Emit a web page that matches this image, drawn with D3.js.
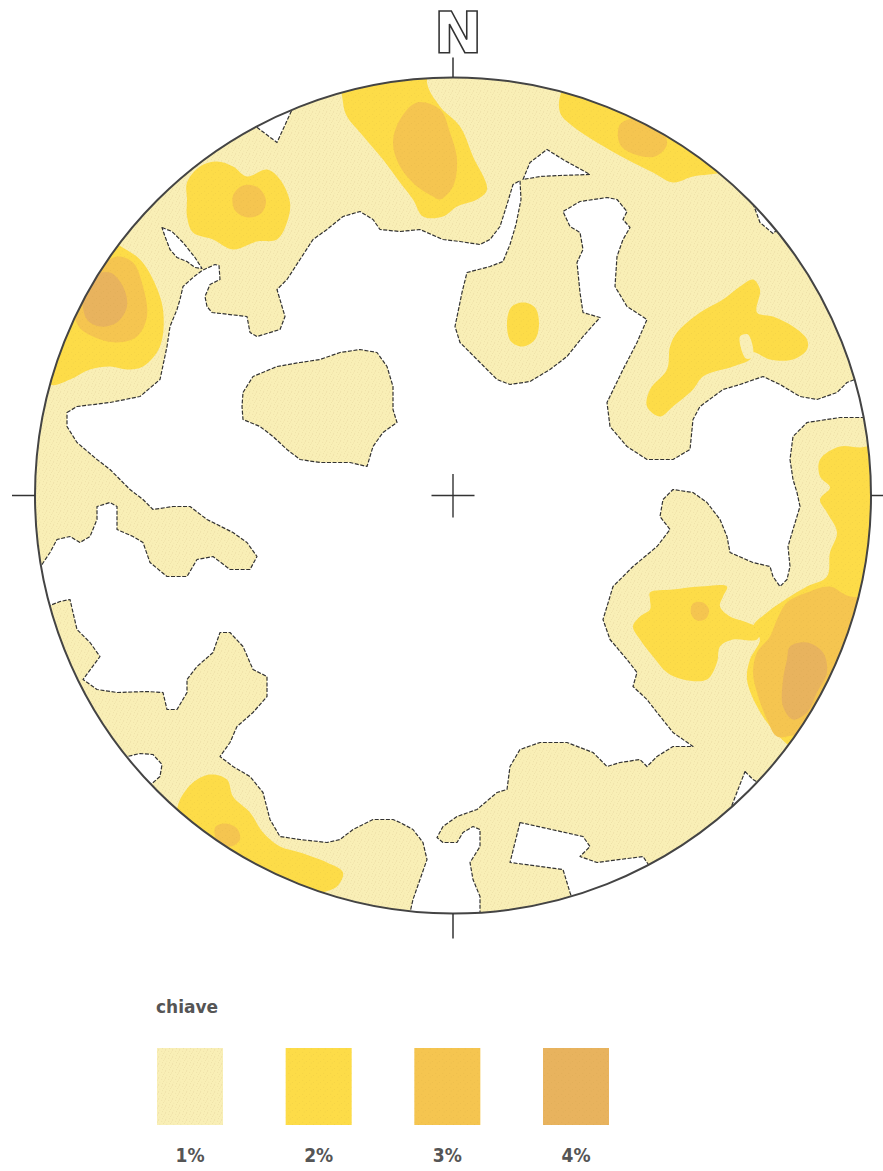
<!DOCTYPE html>
<html>
<head>
<meta charset="utf-8">
<script src="https://cdn.jsdelivr.net/npm/d3@7"></script>
<style>
html,body{margin:0;padding:0;background:#fff;}
svg{display:block;}
</style>
</head>
<body>
<svg id="chart" width="883" height="1171"></svg>
<script>
// ---------------- DATA (net coordinates, primitive circle radius = 418 units, x east, y north) ----------------
const levels = ["1%", "2%", "3%", "4%"];
const legendTitle = "chiave";
const northLabel = "N";

// regions below 1% (white), outlined by the 1% contour
const holesBelow1 = [
  [[-386,83],[-376,89],[-343,93],[-313,99],[-293,116],[-286,149],[-283,169],[-276,186],[-273,196],[-270,209],[-260,218],[-251,225],[-238,231],[-234,230],[-233,216],[-243,211],[-248,199],[-246,189],[-241,183],[-206,179],[-203,163],[-196,159],[-173,166],[-168,179],[-176,206],[-166,216],[-153,236],[-140,256],[-126,266],[-110,279],[-93,284],[-80,276],[-73,266],[-53,264],[-33,266],[-10,256],[7,254],[27,251],[37,256],[47,269],[54,291],[60,311],[67,315],[68,296],[63,271],[57,251],[50,234],[37,229],[14,223],[9,203],[2,169],[7,153],[24,136],[44,116],[57,111],[77,114],[97,126],[114,139],[130,159],[147,178],[130,183],[127,203],[124,233],[130,246],[127,263],[117,269],[110,284],[127,294],[154,298],[164,296],[174,284],[170,276],[177,268],[170,256],[164,239],[162,209],[174,189],[194,176],[184,153],[170,126],[154,93],[157,69],[174,49],[194,36],[220,36],[237,46],[240,76],[247,89],[270,106],[287,111],[310,119],[327,111],[347,99],[364,96],[384,103],[394,113],[407,118],[430,116],[430,78],[410,78],[387,78],[354,73],[340,59],[337,36],[340,16],[344,3],[347,-11],[340,-34],[335,-51],[337,-71],[334,-84],[327,-91],[320,-81],[317,-71],[300,-67],[277,-57],[274,-41],[267,-24],[254,-7],[240,3],[220,6],[210,-4],[207,-21],[217,-34],[204,-51],[180,-71],[160,-91],[154,-111],[150,-124],[157,-144],[174,-164],[184,-177],[180,-191],[194,-204],[204,-217],[220,-237],[240,-251],[220,-251],[204,-261],[194,-271],[187,-264],[167,-267],[154,-271],[140,-257],[114,-247],[87,-247],[67,-254],[57,-271],[54,-294],[44,-297],[24,-314],[4,-321],[-10,-331],[-16,-342],[-10,-347],[4,-347],[10,-337],[20,-331],[27,-334],[27,-351],[17,-367],[20,-384],[27,-401],[27,-440],[-45,-440],[-43,-417],[-40,-404],[-33,-384],[-26,-364],[-30,-347],[-40,-334],[-53,-327],[-60,-324],[-80,-324],[-100,-334],[-113,-344],[-126,-347],[-153,-344],[-173,-341],[-183,-324],[-190,-297],[-203,-281],[-220,-271],[-233,-261],[-223,-247],[-216,-231],[-200,-217],[-186,-201],[-186,-181],[-200,-174],[-210,-151],[-223,-137],[-233,-137],[-240,-157],[-256,-171],[-266,-184],[-266,-197],[-276,-214],[-286,-214],[-290,-197],[-306,-196],[-336,-197],[-356,-194],[-370,-184],[-353,-161],[-363,-147],[-376,-134],[-380,-117],[-383,-104],[-393,-106],[-403,-110],[-430,-112],[-430,-69],[-411,-69],[-403,-57],[-396,-44],[-383,-41],[-373,-47],[-363,-41],[-356,-24],[-356,-11],[-343,-7],[-336,-11],[-336,-34],[-320,-41],[-310,-47],[-303,-67],[-286,-81],[-266,-81],[-256,-64],[-240,-61],[-223,-74],[-203,-74],[-196,-61],[-206,-47],[-220,-37],[-246,-24],[-263,-11],[-280,-11],[-300,-14],[-310,-4],[-323,6],[-333,16],[-343,26],[-356,36],[-376,53],[-386,69]],
  // narrow slit, north-west
  [[-291,268],[-281,264],[-270,253],[-258,238],[-251,227],[-258,228],[-266,234],[-276,238],[-283,246],[-288,259]],
  // triangular notch, north
  [[70,316],[77,333],[94,346],[110,336],[137,321],[107,320],[87,319]],
  // rim notch, north-west
  [[-205,375],[-176,353],[-160,388],[-165,400]],
  // rim notch, north-east
  [[300,292],[307,273],[320,262],[340,280],[320,300]],
  // rim notch, south-east
  [[292,-276],[300,-284],[307,-288],[320,-300],[300,-320],[275,-320]],
  // rim pocket, south-west
  [[-330,-262],[-313,-258],[-300,-259],[-291,-269],[-293,-281],[-301,-288],[-320,-300],[-345,-280]],
  // rim pocket, south
  [[67,-327],[57,-367],[110,-374],[117,-397],[125,-420],[210,-390],[194,-367],[190,-361],[144,-367],[127,-361],[137,-351],[130,-341]]
];

// isolated 1% island inside the empty area
const islands1 = [
  [[-210,103],[-200,119],[-176,129],[-153,133],[-133,136],[-113,143],[-93,146],[-76,143],[-66,129],[-60,109],[-60,86],[-56,73],[-70,63],[-80,49],[-86,29],[-103,33],[-133,33],[-153,36],[-166,46],[-180,59],[-193,69],[-210,76],[-211,89]]
];
// small 1% gap inside a 2% area
const gaps1 = [
  [[287,159],[295,161],[300,139],[293,137]]
];

const contour2 = [
  [[-266,313],[-253,329],[-236,334],[-220,329],[-206,319],[-186,326],[-173,316],[-163,293],[-166,273],[-176,256],[-196,254],[-220,246],[-240,256],[-260,263],[-266,279],[-266,296]],
  [[-110,393],[-108,425],[-20,440],[-26,413],[-13,389],[7,369],[20,339],[34,306],[24,296],[4,289],[-10,279],[-30,279],[-40,296],[-53,313],[-70,336],[-93,363],[-106,379]],
  [[110,406],[107,383],[120,369],[144,353],[174,336],[200,323],[220,313],[240,319],[272,324],[300,340],[150,430]],
  [[-335,251],[-313,236],[-300,216],[-290,186],[-293,149],[-310,129],[-326,126],[-343,129],[-363,126],[-383,116],[-403,111],[-430,150],[-380,280]],
  [[58,188],[70,193],[82,188],[86,172],[82,156],[70,149],[58,154],[54,170]],
  [[300,216],[307,206],[304,183],[320,179],[340,169],[354,156],[354,146],[340,136],[317,136],[300,143],[297,136],[280,129],[250,119],[240,106],[220,89],[207,79],[194,89],[197,106],[214,126],[217,149],[224,163],[247,183],[270,196],[287,209]],
  [[367,36],[387,49],[407,48],[440,50],[440,-260],[345,-255],[320,-234],[304,-211],[294,-184],[297,-164],[307,-144],[300,-131],[314,-117],[337,-101],[354,-91],[374,-81],[377,-57],[384,-37],[374,-17],[367,-4],[377,8],[367,19]],
  [[197,-97],[220,-94],[247,-91],[274,-91],[270,-101],[267,-111],[277,-121],[294,-127],[307,-134],[304,-144],[280,-144],[267,-151],[264,-167],[254,-184],[230,-184],[214,-177],[200,-161],[187,-144],[180,-131],[187,-121],[197,-114],[197,-104]],
  [[-278,-319],[-273,-304],[-260,-287],[-243,-279],[-226,-284],[-220,-301],[-203,-317],[-190,-337],[-173,-351],[-153,-357],[-126,-367],[-110,-377],[-116,-391],[-133,-399],[-150,-420],[-290,-330]]
];

const contour3 = [
  [[-220,300],[-210,310],[-195,308],[-187,295],[-192,282],[-205,278],[-218,285]],
  [[-53,376],[-36,393],[-13,386],[-3,363],[4,336],[0,309],[-13,296],[-20,299],[-36,309],[-53,329],[-60,353]],
  [[167,371],[187,378],[207,368],[214,351],[202,339],[182,341],[167,351]],
  [[-360,223],[-336,239],[-320,233],[-310,209],[-306,179],[-316,159],[-336,153],[-360,159],[-375,170],[-380,200]],
  [[240,-108],[250,-107],[256,-114],[253,-123],[244,-125],[238,-118]],
  [[334,-107],[354,-97],[377,-91],[394,-100],[430,-110],[420,-230],[340,-240],[324,-241],[314,-224],[304,-197],[300,-177],[304,-157],[317,-141],[324,-124]],
  [[-238,-332],[-228,-328],[-216,-333],[-213,-344],[-222,-351],[-235,-347]]
];

const contour4 = [
  [[-360,219],[-343,223],[-330,209],[-326,189],[-336,173],[-353,169],[-366,176],[-370,196]],
  [[337,-151],[354,-147],[370,-157],[374,-177],[364,-197],[354,-217],[340,-224],[330,-211],[330,-184],[334,-164]]
];

// ---------------- STYLE / LAYOUT ----------------
const W = 883, H = 1171;
const cx = 453, cy = 495.5, R = 418;
const NET = 418;
const fills = {"1%": "#f9efb6", "2%": "#fddc48", "3%": "#f5c550", "4%": "#e8b35e"};
const ink = "#333";

const svg = d3.select("#chart");
const x = d3.scaleLinear().domain([-NET, NET]).range([cx - R, cx + R]);
const y = d3.scaleLinear().domain([-NET, NET]).range([cy + R, cy - R]);

const defs = svg.append("defs");
defs.append("clipPath").attr("id", "net")
  .append("circle").attr("cx", x(0)).attr("cy", y(0)).attr("r", x(NET) - x(0));

// stipple pattern for the 1% tone
const pat = defs.append("pattern").attr("id", "stip").attr("patternUnits", "userSpaceOnUse")
  .attr("width", 7).attr("height", 7);
pat.append("rect").attr("width", 7).attr("height", 7).attr("fill", fills["1%"]);
[[0.8,1.2],[4.3,0.6],[2.6,3.4],[5.9,4.1],[1.4,5.8],[4.8,6.3],[3.7,2.0]].forEach(p => {
  pat.append("circle").attr("cx", p[0]).attr("cy", p[1]).attr("r", 0.45).attr("fill", "#c2ab70").attr("opacity", 0.4);
});
const pat2 = defs.append("pattern").attr("id", "stip2").attr("patternUnits", "userSpaceOnUse")
  .attr("width", 7).attr("height", 7);
[[1.8,2.2],[5.3,4.6],[3.1,6.0]].forEach(p => {
  pat2.append("circle").attr("cx", p[0]).attr("cy", p[1]).attr("r", 0.4).attr("fill", "#b08a30").attr("opacity", 0.3);
});

const lineLin = d3.line().x(d => x(d[0])).y(d => y(d[1])).curve(d3.curveLinearClosed);
const lineSm = d3.line().x(d => x(d[0])).y(d => y(d[1])).curve(d3.curveCatmullRomClosed.alpha(0.5));

const g = svg.append("g").attr("clip-path", "url(#net)");
g.append("circle").attr("cx", x(0)).attr("cy", y(0)).attr("r", x(NET) - x(0)).attr("fill", "url(#stip)");

g.selectAll("path.c2").data(contour2).join("path").attr("class", "c2")
  .attr("d", lineSm).attr("fill", fills["2%"]);
g.selectAll("path.c3").data(contour3).join("path").attr("class", "c3")
  .attr("d", lineSm).attr("fill", fills["3%"]);
g.selectAll("path.c4").data(contour4).join("path").attr("class", "c4")
  .attr("d", lineSm).attr("fill", fills["4%"]);
g.selectAll("path.g1").data(gaps1).join("path").attr("class", "g1")
  .attr("d", lineSm).attr("fill", fills["1%"]);
g.selectAll("path.tex").data(contour2).join("path").attr("class", "tex")
  .attr("d", lineSm).attr("fill", "url(#stip2)");

g.selectAll("path.hole").data(holesBelow1).join("path").attr("class", "hole")
  .attr("d", lineLin).attr("fill", "#fff")
  .attr("stroke", ink).attr("stroke-width", 1.2).attr("stroke-dasharray", "4 1.6")
  .attr("stroke-linejoin", "round");
g.selectAll("path.isl").data(islands1).join("path").attr("class", "isl")
  .attr("d", lineLin).attr("fill", "url(#stip)")
  .attr("stroke", ink).attr("stroke-width", 1.2).attr("stroke-dasharray", "4 1.6")
  .attr("stroke-linejoin", "round");

// primitive circle
svg.append("circle").attr("cx", x(0)).attr("cy", y(0)).attr("r", x(NET) - x(0))
  .attr("fill", "none").attr("stroke", "#444").attr("stroke-width", 2);

// cardinal ticks
const ticks = [
  {x1: 0, y1: NET, x2: 0, y2: NET + 20},
  {x1: 0, y1: -NET, x2: 0, y2: -NET - 25},
  {x1: -NET, y1: 0, x2: -NET - 23, y2: 0},
  {x1: NET, y1: 0, x2: NET + 14, y2: 0}
];
svg.selectAll("line.tick").data(ticks).join("line").attr("class", "tick")
  .attr("x1", d => x(d.x1)).attr("y1", d => y(d.y1)).attr("x2", d => x(d.x2)).attr("y2", d => y(d.y2))
  .attr("stroke", "#333").attr("stroke-width", 1.5);

// centre cross
const cross = [[-21.5, 0, 21.5, 0], [0, 21.5, 0, -22]];
svg.selectAll("line.cross").data(cross).join("line").attr("class", "cross")
  .attr("x1", d => x(d[0])).attr("y1", d => y(d[1])).attr("x2", d => x(d[2])).attr("y2", d => y(d[3]))
  .attr("stroke", "#333").attr("stroke-width", 1.4);

// North label (outlined)
svg.append("text")
  .attr("transform", `translate(${x(0) + 5},53) scale(1.12,1.1)`)
  .attr("text-anchor", "middle")
  .attr("font-family", "DejaVu Sans").attr("font-weight", "bold").attr("font-size", 52)
  .attr("fill", "#fff").attr("stroke", "#333").attr("stroke-width", 1.4)
  .text(northLabel);

// ---------------- LEGEND ----------------
const lx = d3.scalePoint().domain(levels).range([190, 576]);
const sqW = 66, sqH = 77, sqTop = 1048;
svg.append("text").attr("x", 156).attr("y", 1013)
  .attr("font-family", "DejaVu Sans").attr("font-weight", "bold").attr("font-size", 17)
  .attr("fill", "#555").text(legendTitle);
const lg = svg.selectAll("g.leg").data(levels).join("g").attr("class", "leg");
lg.append("rect").attr("x", d => lx(d) - sqW / 2).attr("y", sqTop).attr("width", sqW).attr("height", sqH)
  .attr("fill", d => d === "1%" ? "url(#stip)" : fills[d]);
lg.filter(d => d !== "1%").append("rect").attr("x", d => lx(d) - sqW / 2).attr("y", sqTop).attr("width", sqW).attr("height", sqH)
  .attr("fill", "url(#stip2)");
lg.append("text").attr("x", d => lx(d)).attr("y", 1162).attr("text-anchor", "middle")
  .attr("font-family", "DejaVu Sans Condensed").attr("font-weight", "bold").attr("font-size", 19)
  .attr("fill", "#555").text(d => d);
</script>
</body>
</html>
